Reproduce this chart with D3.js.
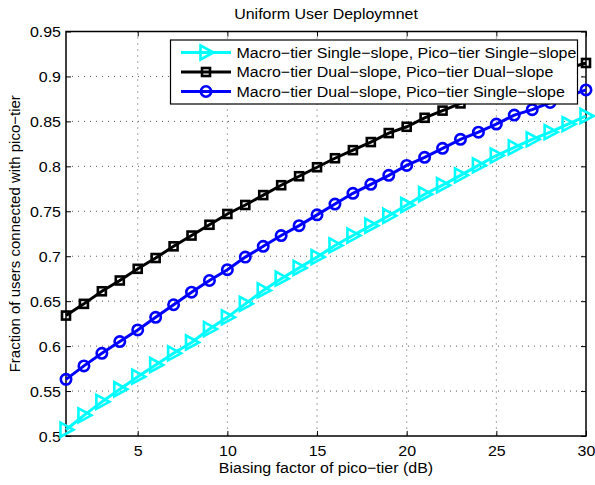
<!DOCTYPE html>
<html><head><meta charset="utf-8">
<script src="https://cdn.jsdelivr.net/npm/d3@7"></script>
<style>body{margin:0;background:#fff}svg{display:block}text{font-family:"Liberation Sans",Arial,sans-serif}</style>
</head><body><svg id="c" width="595" height="485"></svg>
<script>
const xValues = d3.range(1, 31);
const ssSS = [0.507,0.523,0.538,0.552,0.566,0.579,0.592,0.604,0.619,0.632,0.647,0.662,0.675,0.687,0.699,0.712,0.723,0.734,0.745,0.757,0.769,0.779,0.790,0.801,0.812,0.821,0.830,0.838,0.847,0.856];
const dsDS = [0.634,0.647,0.661,0.673,0.686,0.698,0.711,0.723,0.735,0.747,0.757,0.768,0.779,0.789,0.799,0.809,0.818,0.827,0.837,0.844,0.854,0.862,0.870,0.877,0.884,0.891,0.897,0.903,0.909,0.915];
const dsSS = [0.563,0.578,0.592,0.605,0.618,0.632,0.646,0.660,0.673,0.685,0.699,0.711,0.723,0.734,0.746,0.758,0.770,0.780,0.790,0.801,0.810,0.820,0.830,0.838,0.847,0.857,0.863,0.871,0.878,0.885];
const seriesNames = ["Macro\u2212tier Single\u2212slope, Pico\u2212tier Single\u2212slope","Macro\u2212tier Dual\u2212slope, Pico\u2212tier Dual\u2212slope","Macro\u2212tier Dual\u2212slope, Pico\u2212tier Single\u2212slope"];
const xTicks = [5,10,15,20,25,30];
const yTicks = [0.5,0.55,0.6,0.65,0.7,0.75,0.8,0.85,0.9,0.95];
const title = "Uniform User Deploymnet";
const xLabel = "Biasing factor of pico\u2212tier (dB)";
const yLabel = "Fraction of users connected with pico\u2212tier";

const L=66,R=586,T=31.5,B=436;
const SX=1.065, FS=15;
const svg=d3.select("#c");
const x=d3.scaleLinear().domain([1,30]).range([L,R]);
const y=d3.scaleLinear().domain([0.5,0.95]).range([B,T]);

// grid
const g=svg.append("g");
g.selectAll(".gx").data(xTicks.filter(v=>v<30)).join("line").attr("x1",d=>x(d)).attr("x2",d=>x(d)).attr("y1",T).attr("y2",B)
 .attr("stroke","#555").attr("stroke-width",1).attr("stroke-dasharray","1,5");
g.selectAll(".gy").data(yTicks.filter(v=>v>0.5&&v<0.95)).join("line").attr("y1",d=>y(d)).attr("y2",d=>y(d)).attr("x1",L).attr("x2",R)
 .attr("stroke","#555").attr("stroke-width",1).attr("stroke-dasharray","1,5");

// axes
const ax=svg.append("g").attr("transform",`translate(0,${B})`).call(d3.axisBottom(x).tickValues(xTicks).tickSize(-5).tickPadding(9).tickFormat(d3.format("d")));
const axT=svg.append("g").attr("transform",`translate(0,${T})`).call(d3.axisTop(x).tickValues(xTicks).tickSize(-5).tickFormat(""));
const ay=svg.append("g").attr("transform",`translate(${L},0)`).call(d3.axisLeft(y).tickValues(yTicks).tickSize(-5).tickPadding(5).tickFormat(d=>String(+d.toFixed(2))));
const ayR=svg.append("g").attr("transform",`translate(${R},0)`).call(d3.axisRight(y).tickValues(yTicks).tickSize(-5).tickFormat(""));
[ax,axT,ay,ayR].forEach(a=>{a.select(".domain").remove();a.selectAll("line").attr("stroke","#000");a.selectAll("text").attr("font-size",FS).attr("fill","#000").style("font-family","Liberation Sans, Arial, sans-serif");});
ax.selectAll("text").attr("transform",`scale(${SX},1)`);
ay.selectAll("text").attr("dy","0.35em").each(function(){const t=d3.select(this);const xx=+t.attr("x");t.attr("x",0).attr("transform",`translate(${xx},0) scale(${SX},1)`);});
svg.append("rect").attr("x",L).attr("y",T).attr("width",R-L).attr("height",B-T).attr("fill","none").attr("stroke","#000").attr("stroke-width",1.5);

const series=[{v:ssSS,c:"#00ffff",m:"tri"},{v:dsDS,c:"#000000",m:"sq"},{v:dsSS,c:"#0000ff",m:"circ"}];
function marker(sel,m,c){
  if(m==="tri") sel.append("path").attr("d","M-5.5,-7L7.5,0L-5.5,7Z").attr("fill","none").attr("stroke",c).attr("stroke-width",2.6).attr("stroke-linejoin","miter");
  else if(m==="sq") sel.append("rect").attr("x",-4).attr("y",-4).attr("width",8).attr("height",8).attr("fill","none").attr("stroke",c).attr("stroke-width",2.6);
  else sel.append("circle").attr("r",5.2).attr("fill","none").attr("stroke",c).attr("stroke-width",2.6);
}
const line=d3.line().x((d,i)=>x(xValues[i])).y(d=>y(d));
series.forEach(s=>{
  const gs=svg.append("g");
  gs.append("path").datum(s.v).attr("d",line).attr("fill","none").attr("stroke",s.c).attr("stroke-width",3);
  s.v.forEach((v,i)=>{const mg=gs.append("g").attr("transform",`translate(${x(xValues[i])},${y(v)})`);marker(mg,s.m,s.c);});
});

// legend
const lg=svg.append("g");
lg.append("rect").attr("x",170.5).attr("y",40).attr("width",407).attr("height",64).attr("fill","#fff").attr("stroke","#000").attr("stroke-width",1.2);
const rows=[52.5,72,91.5];
series.forEach((s,i)=>{
  lg.append("line").attr("x1",181).attr("x2",231).attr("y1",rows[i]).attr("y2",rows[i]).attr("stroke",s.c).attr("stroke-width",3);
  marker(lg.append("g").attr("transform",`translate(206,${rows[i]})`),s.m,s.c);
  lg.append("text").attr("transform",`translate(236.5,${rows[i]}) scale(${SX},1)`).attr("dy","0.36em").attr("font-size",FS).text(seriesNames[i]);
});

svg.append("text").attr("transform",`translate(326,19) scale(${SX},1)`).attr("text-anchor","middle").attr("font-size",FS).text(title);
svg.append("text").attr("transform",`translate(326,473) scale(${SX},1)`).attr("text-anchor","middle").attr("font-size",FS).text(xLabel);
svg.append("text").attr("transform",`translate(20,${(T+B)/2}) rotate(-90)`).attr("text-anchor","middle").attr("font-size",FS).text(yLabel);
</script></body></html>
